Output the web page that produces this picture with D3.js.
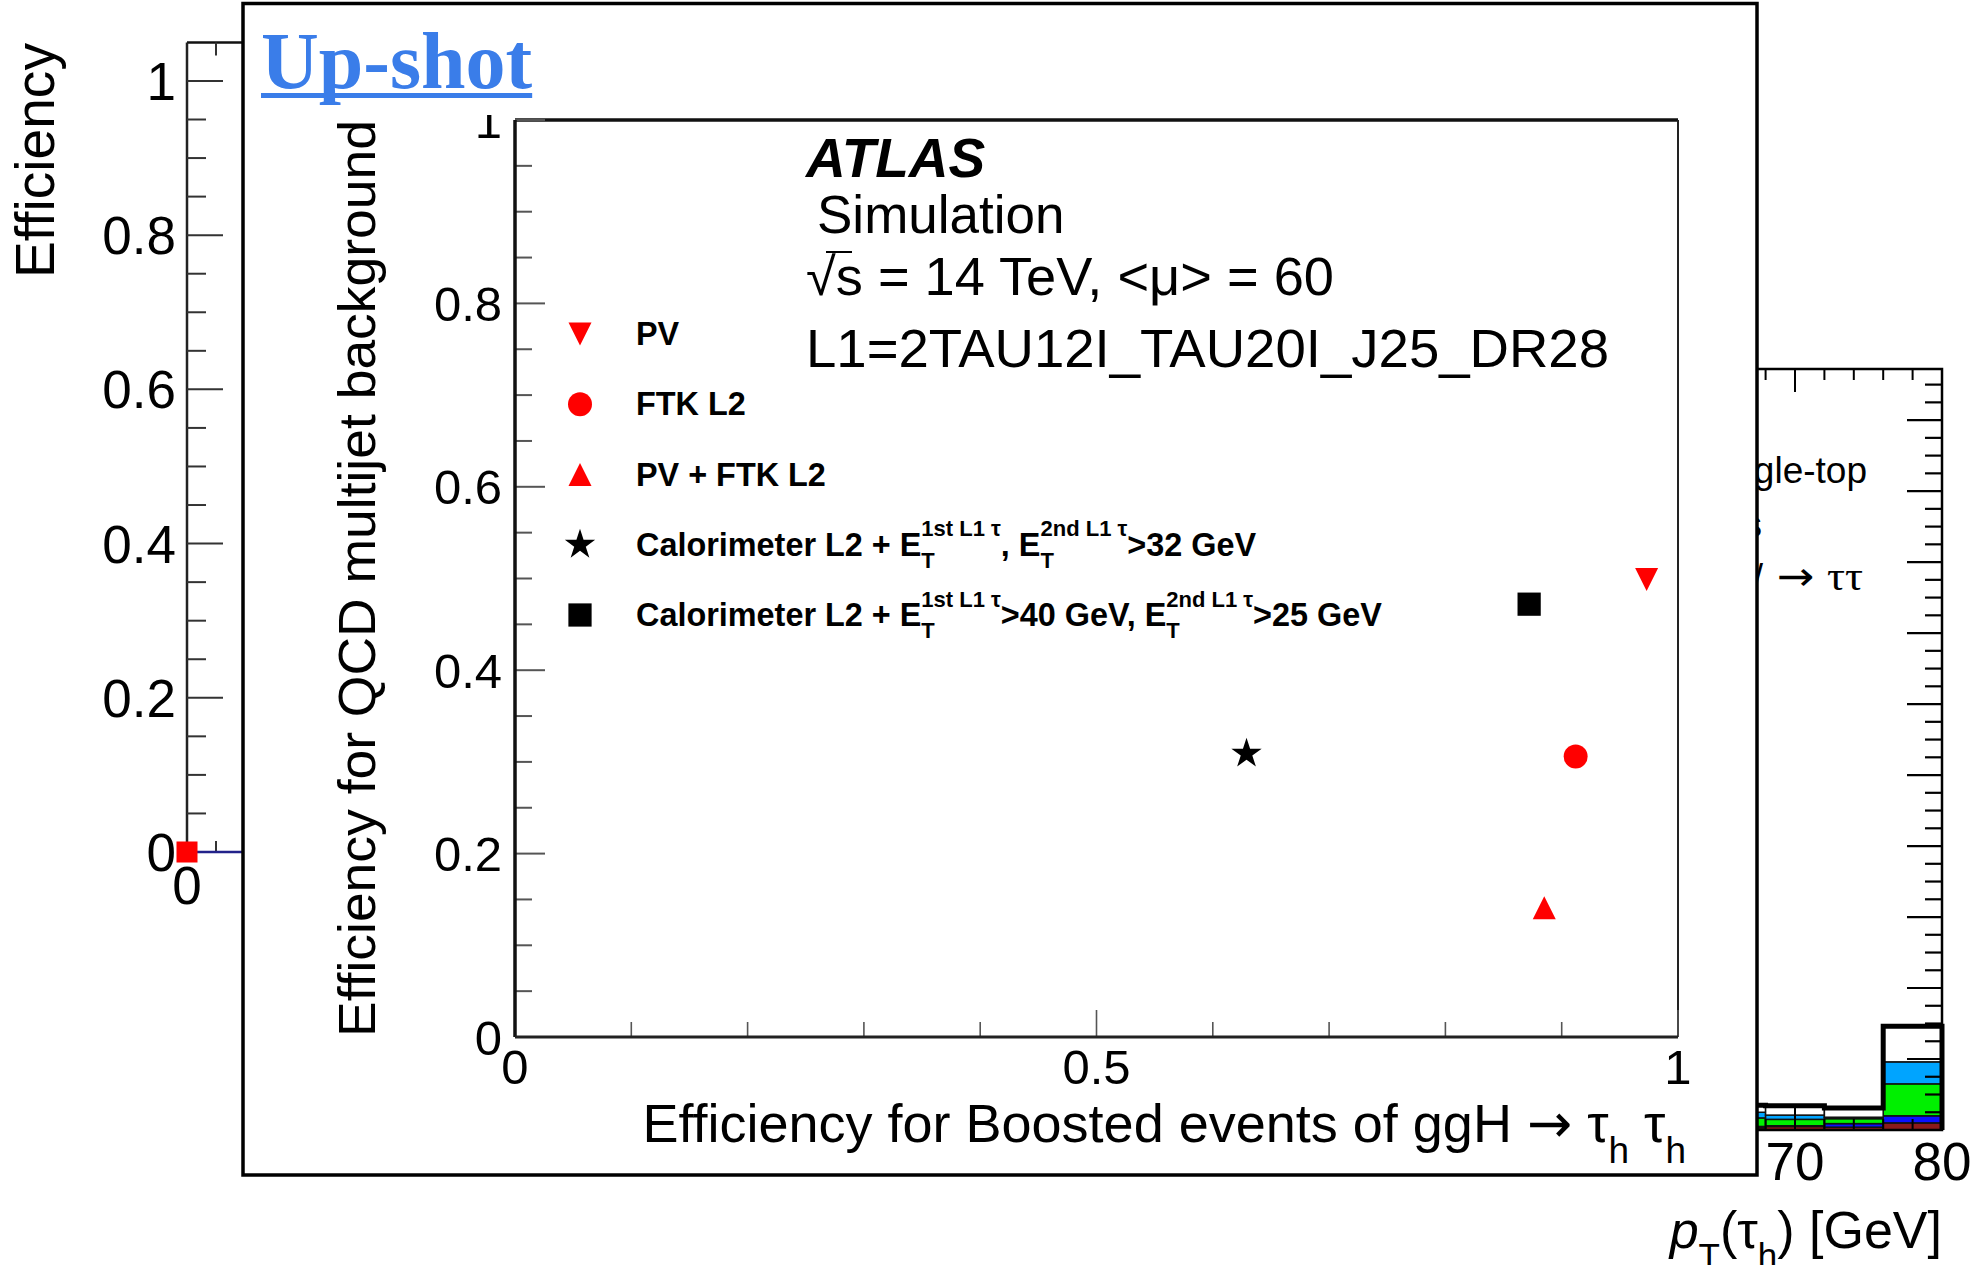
<!doctype html>
<html lang="en">
<head>
  <meta charset="utf-8">
  <title>Up-shot: trigger efficiencies</title>
  <style>
   body { margin: 0; background: #fff; }
   text { font-family: "Liberation Sans", Arial, Helvetica, sans-serif; white-space: pre; fill: #000; }
   .serif { font-family: "Liberation Serif", "Times New Roman", serif; }
  </style>
</head>
<body>
<svg id="chart" width="1983" height="1265" xmlns="http://www.w3.org/2000/svg"></svg>
<script src="https://d3js.org/d3.v7.min.js"></script>
<script>
 // ---- inset: QCD multijet efficiency vs signal efficiency, one point per trigger ----
 var triggers = ["PV", "FTK L2", "PV + FTK L2", "Calo L2 32", "Calo L2 40/25"];
 var sigEff = [0.973, 0.912, 0.885, 0.629, 0.872];
 var bkgEff = [0.499, 0.306, 0.141, 0.309, 0.472];
 var markerShapes = ["triDown", "circle", "triUp", "star", "square"];
 var markerColors = ["#ff0000", "#ff0000", "#ff0000", "#000000", "#000000"];

 var insetXTicks = [0, 0.5, 1];
 var insetXLabels = ["0", "0.5", "1"];
 var insetYTicks = [0, 0.2, 0.4, 0.6, 0.8, 1];
 var insetYLabels = ["0", "0.2", "0.4", "0.6", "0.8", "1"];

 // legend text pieces (n = normal, sub/sup = stacked indices)
 var legendLabels = [
     [{n: "PV"}],
     [{n: "FTK L2"}],
     [{n: "PV + FTK L2"}],
     [{n: "Calorimeter L2 + E"}, {sub: "T", sup: "1st L1 \u03c4"}, {n: ", E"}, {sub: "T", sup: "2nd L1 \u03c4"}, {n: ">32 GeV"}],
     [{n: "Calorimeter L2 + E"}, {sub: "T", sup: "1st L1 \u03c4"}, {n: ">40 GeV, E"}, {sub: "T", sup: "2nd L1 \u03c4"}, {n: ">25 GeV"}]
 ];
 var infoLines = ["Simulation", "\u221as = 14 TeV, <\u03bc> = 60", "L1=2TAU12I_TAU20I_J25_DR28"];

 // ---- background plot on the left (efficiency) ----
 var effTicks = [0, 0.2, 0.4, 0.6, 0.8, 1];
 var effLabels = ["0", "0.2", "0.4", "0.6", "0.8", "1"];
 var effPointX = [0];
 var effPointY = [0];
 var effLineX = [0, 3];
 var effLineY = [0, 0];

 // ---- background plot on the right (stacked pT histogram, bins of 4 GeV) ----
 var binEdges = [64, 68, 72, 76, 80];
 var stackKeys = ["darkred", "blue", "green", "lightblue", "other"];
 var stackColors = ["#8b1a1a", "#0a10ff", "#00f000", "#00a4ff", "#ffffff"];
 var darkredVals = [0.03, 0.05, 0.04, 0.10];
 var blueVals = [0.02, 0.01, 0.05, 0.10];
 var greenVals = [0.12, 0.09, 0.07, 0.45];
 var lightblueVals = [0.08, 0.06, 0.02, 0.31];
 var otherVals = [0.10, 0.13, 0.13, 0.50];
 var ptTicks = [70, 80];
 var ptLabels = ["70", "80"];
 var bgLegend = ["Single-top", "Dibosons", "Z/"];

 var svg = d3.select("#chart");
 svg.append("rect").attr("width", 1983).attr("height", 1265).attr("fill", "#fff");

 // draws a ROOT-like rich text (sub and superscripts stacked), returns its width
 function richText(g, x, y, pieces, size, weight, small) {
     var cx = x;
     pieces.forEach(function(p) {
	 if (p.n !== undefined) {
	     var t = g.append("text").attr("x", cx).attr("y", y)
		      .attr("font-size", size).attr("font-weight", weight)
		      .attr("font-style", p.it ? "italic" : null)
		      .style("font-family", p.fam || null)
		      .text(p.n);
	     cx += t.node().getComputedTextLength();
	 } else {
	     var w = 0;
	     if (p.sub) {
		 var ts = g.append("text").attr("x", cx).attr("y", y + size * 0.38)
			   .attr("font-size", small).attr("font-weight", weight).text(p.sub);
		 w = Math.max(w, ts.node().getComputedTextLength());
	     }
	     if (p.sup) {
		 var tp = g.append("text").attr("x", cx).attr("y", y - size * 0.6)
			   .attr("font-size", small).attr("font-weight", weight).text(p.sup);
		 w = Math.max(w, tp.node().getComputedTextLength());
	     }
	     cx += w;
	 }
     });
     return cx - x;
 }

 // ================= left background plot =================
 var bgL = svg.append("g");
 var effY = d3.scaleLinear().domain([0, 1.05]).range([852, 42.4]);
 var effX = d3.scaleLinear().domain([0, 10]).range([187, 477]);

 bgL.append("line").attr("x1", 187).attr("x2", 900).attr("y1", effY(1.05)).attr("y2", effY(1.05))
    .attr("stroke", "#111").attr("stroke-width", 2.5);
 bgL.append("line").attr("x1", 187).attr("x2", 187).attr("y1", effY(1.05)).attr("y2", effY(0))
    .attr("stroke", "#222").attr("stroke-width", 2.5);
 bgL.selectAll("line.ytick").data(d3.range(0, 21)).enter().append("line")
    .attr("class", "ytick")
    .attr("x1", 187).attr("x2", function(i) { return i % 4 == 0 ? 223 : 206; })
    .attr("y1", function(i) { return effY(i * 0.05); })
    .attr("y2", function(i) { return effY(i * 0.05); })
    .attr("stroke", "#333").attr("stroke-width", 2);
 bgL.selectAll("line.xtick").data(d3.range(1, 10)).enter().append("line")
    .attr("x1", function(d) { return effX(d); }).attr("x2", function(d) { return effX(d); })
    .attr("y1", effY(1.05)).attr("y2", effY(1.05) + 13)
    .attr("stroke", "#333").attr("stroke-width", 2);
 bgL.selectAll("line.xtickb").data(d3.range(1, 10)).enter().append("line")
    .attr("x1", function(d) { return effX(d); }).attr("x2", function(d) { return effX(d); })
    .attr("y1", effY(0)).attr("y2", effY(0) - 11)
    .attr("stroke", "#333").attr("stroke-width", 2);
 bgL.selectAll("text.ylab").data(effTicks).enter().append("text")
    .attr("x", 176).attr("y", function(d) { return effY(d); }).attr("dy", "0.36em")
    .attr("text-anchor", "end").attr("font-size", 53)
    .text(function(d, i) { return effLabels[i]; });
 bgL.append("text").attr("x", effX(0)).attr("y", 904).attr("text-anchor", "middle")
    .attr("font-size", 53).text("0");
 bgL.append("text").attr("transform", "translate(54,43) rotate(-90)")
    .attr("text-anchor", "end").attr("font-size", 56)
    .attr("textLength", 235).attr("lengthAdjust", "spacingAndGlyphs").text("Efficiency");
 bgL.append("path")
    .attr("d", d3.line()(effLineX.map(function(d, i) { return [effX(d), effY(effLineY[i])]; })))
    .attr("stroke", "#22228a").attr("stroke-width", 2.5).attr("fill", "none");
 bgL.selectAll("rect.pt").data(effPointX).enter().append("rect")
    .attr("x", function(d) { return effX(d) - 10.5; })
    .attr("y", function(d, i) { return effY(effPointY[i]) - 10.5; })
    .attr("width", 21).attr("height", 21).attr("fill", "#ff0000");

 // ================= right background plot =================
 var bgR = svg.append("g");
 var ptX = d3.scaleLinear().domain([70, 80]).range([1795, 1942]);
 var ptY = d3.scaleLinear().domain([0, 10.72]).range([1130, 369]);

 var binRows = binEdges.slice(0, -1).map(function(e, i) {
     return {lo: e, hi: binEdges[i + 1], darkred: darkredVals[i], blue: blueVals[i],
	     green: greenVals[i], lightblue: lightblueVals[i], other: otherVals[i]};
 });
 var stacked = d3.stack().keys(stackKeys)(binRows);
 stacked.forEach(function(layer, k) {
     bgR.selectAll("rect.s" + k).data(layer).enter().append("rect")
	.attr("x", function(d) { return ptX(d.data.lo); })
	.attr("width", function(d) { return ptX(d.data.hi) - ptX(d.data.lo); })
	.attr("y", function(d) { return ptY(d[1]); })
	.attr("height", function(d) { return ptY(d[0]) - ptY(d[1]); })
	.attr("fill", stackColors[k]).attr("stroke", "#111").attr("stroke-width", 1.5);
 });
 var totals = binRows.map(function(r) { return r.darkred + r.blue + r.green + r.lightblue + r.other; });
 var stepPts = binEdges.map(function(e, i) { return [ptX(e), ptY(i < totals.length ? totals[i] : totals[totals.length - 1])]; });
 stepPts.push([ptX(80), ptY(0)]);
 bgR.append("path").attr("d", d3.line().curve(d3.curveStepAfter)(stepPts))
    .attr("fill", "none").attr("stroke", "#000").attr("stroke-width", 5);

 bgR.append("rect").attr("x", ptX(56)).attr("y", ptY(10.72)).attr("width", ptX(80) - ptX(56))
    .attr("height", ptY(0) - ptY(10.72)).attr("fill", "none").attr("stroke", "#000").attr("stroke-width", 2.5);
 var xt = d3.range(56, 80, 2);
 bgR.selectAll("line.tt").data(xt).enter().append("line")
    .attr("x1", function(d) { return ptX(d); }).attr("x2", function(d) { return ptX(d); })
    .attr("y1", ptY(10.72)).attr("y2", function(d) { return ptY(10.72) + (d % 10 == 0 ? 23 : 11); })
    .attr("stroke", "#000").attr("stroke-width", 2);
 bgR.selectAll("line.bt").data(xt).enter().append("line")
    .attr("x1", function(d) { return ptX(d); }).attr("x2", function(d) { return ptX(d); })
    .attr("y1", ptY(0)).attr("y2", function(d) { return ptY(0) - (d % 10 == 0 ? 23 : 11); })
    .attr("stroke", "#000").attr("stroke-width", 2);
 bgR.selectAll("line.rt").data(d3.range(1, 43)).enter().append("line")
    .attr("x1", ptX(80)).attr("x2", function(i) { return ptX(80) - (i % 4 == 0 ? 35 : 17); })
    .attr("y1", function(i) { return ptY(i * 0.25); }).attr("y2", function(i) { return ptY(i * 0.25); })
    .attr("stroke", "#000").attr("stroke-width", 2.2);
 bgR.selectAll("text.xl").data(ptTicks).enter().append("text")
    .attr("x", function(d) { return ptX(d); }).attr("y", 1180).attr("text-anchor", "middle")
    .attr("font-size", 53).text(function(d, i) { return ptLabels[i]; });
 var ttl = bgR.append("g");
 var tw = richText(ttl, 0, 1248, [{n: "p", it: true}, {sub: "T"}, {n: "(\u03c4"}, {sub: "h"}, {n: ") [GeV]"}], 52, 400, 35);
 ttl.attr("transform", "translate(" + (1942 - tw) + ",0)");

 bgR.append("text").attr("x", 1867).attr("y", 483).attr("text-anchor", "end").attr("font-size", 37).text(bgLegend[0]);
 bgR.append("text").attr("x", 1762).attr("y", 537).attr("text-anchor", "end").attr("font-size", 37).text(bgLegend[1]);
 bgR.append("text").attr("x", 1763).attr("y", 590).attr("text-anchor", "end").attr("font-size", 37).text(bgLegend[2]);
 bgR.append("text").attr("x", 1777).attr("y", 590).attr("font-size", 40)
    .attr("textLength", 86).attr("lengthAdjust", "spacingAndGlyphs")
    .html('<tspan style="font-family:\'DejaVu Sans\'">\u2192</tspan> <tspan class="serif">\u03c4\u03c4</tspan>');

 // ================= inset (the "Up-shot") =================
 var inset = svg.append("g");
 inset.append("rect").attr("x", 243).attr("y", 3.5).attr("width", 1514).attr("height", 1171.5)
      .attr("fill", "#fff").attr("stroke", "#000").attr("stroke-width", 3.5);

 var up = inset.append("text").attr("class", "serif").attr("x", 261).attr("y", 88)
	       .attr("font-size", 80).attr("font-weight", 700).style("fill", "#3a7de9").text("Up-shot");
 inset.append("rect").attr("x", 261).attr("y", 93)
      .attr("width", up.node().getComputedTextLength()).attr("height", 5).attr("fill", "#3a7de9");

 var ix = d3.scaleLinear().domain([0, 1]).range([515, 1678]);
 var iy = d3.scaleLinear().domain([0, 1]).range([1037, 120]);

 // frame
 inset.append("line").attr("x1", ix(0)).attr("x2", ix(1)).attr("y1", iy(1)).attr("y2", iy(1))
      .attr("stroke", "#111").attr("stroke-width", 3.5);
 inset.append("line").attr("x1", ix(1)).attr("x2", ix(1)).attr("y1", iy(1)).attr("y2", iy(0))
      .attr("stroke", "#222").attr("stroke-width", 2);

 // ticks
 inset.selectAll("line.iyt").data(d3.range(0, 21)).enter().append("line")
      .attr("x1", ix(0)).attr("x2", function(i) { return ix(0) + (i % 4 == 0 ? 30 : 17); })
      .attr("y1", function(i) { return iy(i * 0.05); }).attr("y2", function(i) { return iy(i * 0.05); })
      .attr("stroke", "#555").attr("stroke-width", 2);
 inset.selectAll("line.ixt").data(d3.range(0, 11)).enter().append("line")
      .attr("x1", function(i) { return ix(i * 0.1); }).attr("x2", function(i) { return ix(i * 0.1); })
      .attr("y1", iy(0)).attr("y2", function(i) { return iy(0) - (i % 5 == 0 ? 27 : 15); })
      .attr("stroke", "#555").attr("stroke-width", 1.6);

 inset.append("line").attr("x1", ix(0)).attr("x2", ix(0)).attr("y1", iy(1)).attr("y2", iy(0))
      .attr("stroke", "#111").attr("stroke-width", 3.5);
 inset.append("line").attr("x1", ix(0)).attr("x2", ix(1)).attr("y1", iy(0)).attr("y2", iy(0))
      .attr("stroke", "#222").attr("stroke-width", 3);

 // tick labels (top "1" is cut in the screenshot)
 svg.append("clipPath").attr("id", "cut1").append("rect")
    .attr("x", 440).attr("y", 115).attr("width", 80).attr("height", 60);
 inset.selectAll("text.iyl").data(insetYTicks).enter().append("text")
      .attr("x", 502).attr("y", function(d) { return iy(d); }).attr("dy", "0.36em")
      .attr("text-anchor", "end").attr("font-size", 49)
      .attr("clip-path", function(d) { return d == 1 ? "url(#cut1)" : null; })
      .text(function(d, i) { return insetYLabels[i]; });
 inset.selectAll("text.ixl").data(insetXTicks).enter().append("text")
      .attr("x", function(d) { return ix(d); }).attr("y", 1084)
      .attr("text-anchor", "middle").attr("font-size", 49)
      .text(function(d, i) { return insetXLabels[i]; });

 // axis titles
 inset.append("text").attr("transform", "translate(375,120) rotate(-90)")
      .attr("text-anchor", "end").attr("font-size", 52)
      .attr("textLength", 917).attr("lengthAdjust", "spacingAndGlyphs")
      .text("Efficiency for QCD multijet background");
 var xt2 = inset.append("g");
 var xw = richText(xt2, 0, 1142, [{n: "Efficiency for Boosted events of ggH "}, {n: "\u2192", fam: "DejaVu Sans"},
				  {n: " \u03c4"}, {sub: "h"}, {n: " \u03c4"}, {sub: "h"}], 54, 400, 37);
 xt2.attr("transform", "translate(" + (1686 - xw) + ",0)");

 // ATLAS label block
 inset.append("text").attr("x", 806).attr("y", 177).attr("font-size", 55)
      .attr("font-weight", 700).attr("font-style", "italic").text("ATLAS");
 inset.append("text").attr("x", 817).attr("y", 233).attr("font-size", 53).text(infoLines[0]);
 inset.append("text").attr("x", 806).attr("y", 295).attr("font-size", 53)
      .attr("textLength", 528).attr("lengthAdjust", "spacingAndGlyphs").text(infoLines[1]);
 inset.append("line").attr("x1", 826).attr("x2", 852).attr("y1", 252).attr("y2", 252)
      .attr("stroke", "#000").attr("stroke-width", 2);
 inset.append("text").attr("x", 806).attr("y", 367).attr("font-size", 53)
      .attr("textLength", 803).attr("lengthAdjust", "spacingAndGlyphs").text(infoLines[2]);

 // marker symbols, centred on their bounding box like ROOT markers
 var triUp = { draw: function(c, size) { var s = Math.sqrt(size) / 2;
     c.moveTo(0, -s); c.lineTo(s, s); c.lineTo(-s, s); c.closePath(); } };
 var triDown = { draw: function(c, size) { var s = Math.sqrt(size) / 2;
     c.moveTo(0, s); c.lineTo(s, -s); c.lineTo(-s, -s); c.closePath(); } };
 var shapeDefs = {
     triUp: d3.symbol().type(triUp).size(529),
     triDown: d3.symbol().type(triDown).size(529),
     circle: d3.symbol().type(d3.symbolCircle).size(452),
     star: d3.symbol().type(d3.symbolStar).size(285),
     square: d3.symbol().type(d3.symbolSquare).size(540)
 };

 inset.selectAll("path.pt").data(triggers).enter().append("path")
      .attr("transform", function(d, i) { return "translate(" + ix(sigEff[i]) + "," + iy(bkgEff[i]) + ")"; })
      .attr("d", function(d, i) { return shapeDefs[markerShapes[i]](); })
      .attr("fill", function(d, i) { return markerColors[i]; });

 // legend
 var legY = d3.scalePoint().domain(triggers).range([334, 615]);
 triggers.forEach(function(t, i) {
     inset.append("path").attr("transform", "translate(580," + legY(t) + ")")
	  .attr("d", shapeDefs[markerShapes[i]]()).attr("fill", markerColors[i]);
     richText(inset.append("g"), 636, legY(t) + 11, legendLabels[i], 32.4, 700, 22);
 });
</script>
</body>
</html>
